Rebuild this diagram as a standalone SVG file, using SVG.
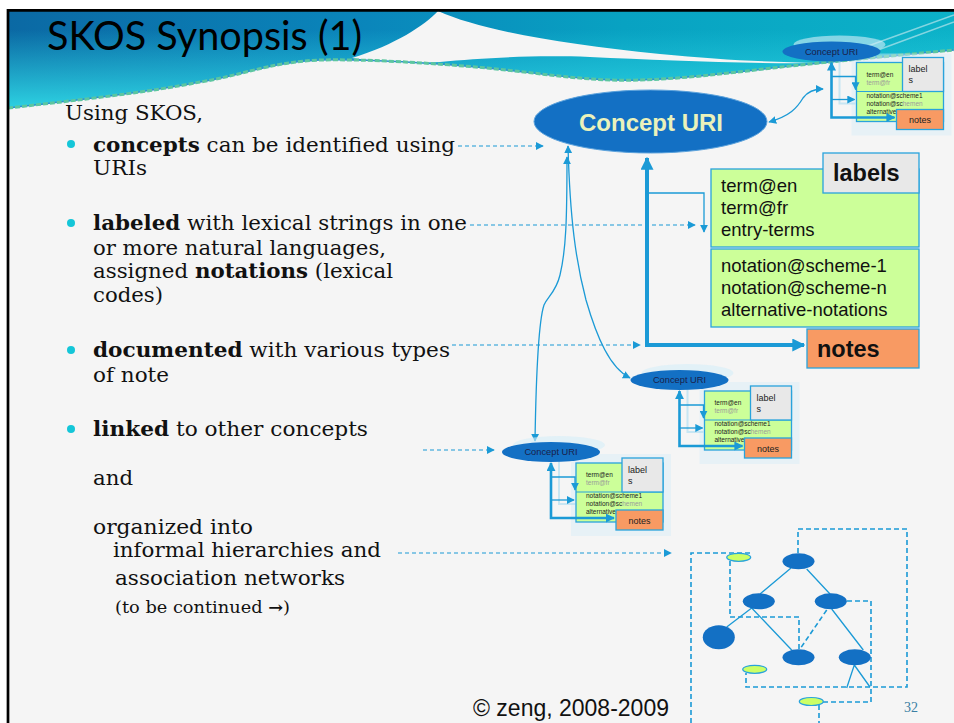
<svg xmlns="http://www.w3.org/2000/svg" xmlns:xlink="http://www.w3.org/1999/xlink" width="954" height="723" viewBox="0 0 954 723">
  <style>
    .body { font-family: "DejaVu Serif", "Liberation Serif", serif; font-size: 19.5px; fill: #111; }
    .b { font-weight: bold; }
    .sm { font-size: 16.5px; }
    .sans { font-family: "Liberation Sans", Arial, sans-serif; }
    .cfill { fill: #1370c4; }
    .grn { fill: #ccff99; stroke: #29a3dc; stroke-width: 1.3; }
    .gry { fill: #e8e8e8; stroke: #29a3dc; stroke-width: 1.3; }
    .org { fill: #f89a63; stroke: #29a3dc; stroke-width: 1.3; }
    .ln { fill: none; stroke: #1b9ad6; stroke-width: 1.3; }
    .thick { fill: none; stroke: #1b9ad6; stroke-width: 4; }
    .mthick { fill: none; stroke: #1b9ad6; stroke-width: 2.6; }
    .dash { fill: none; stroke: #1b9ad6; stroke-width: 1.2; stroke-dasharray: 4 3; }
    .hdash { fill: none; stroke: #1b9ad6; stroke-width: 1.6; stroke-dasharray: 5 3; }
    .node { fill: #1370c4; }
    .gnode { fill: #ccff66; stroke: #29a3dc; stroke-width: 1.2; }
    .mt { font-family: "Liberation Sans", Arial, sans-serif; font-size: 6.5px; fill: #222; }
    .mf { fill: #9a9a9a; }
  </style>
  <defs>
    <linearGradient id="hdr" gradientUnits="userSpaceOnUse" x1="8" y1="0" x2="954" y2="0">
      <stop offset="0" stop-color="#0b69a4"/>
      <stop offset="0.38" stop-color="#0a86bb"/>
      <stop offset="0.65" stop-color="#08a2c2"/>
      <stop offset="1" stop-color="#0cb2c8"/>
    </linearGradient>
    <linearGradient id="hdrv" gradientUnits="userSpaceOnUse" x1="0" y1="30" x2="0" y2="105">
      <stop offset="0" stop-color="#2dd2e2" stop-opacity="0"/>
      <stop offset="1" stop-color="#2dd2e2" stop-opacity="0.95"/>
    </linearGradient>
    <marker id="ah" viewBox="0 0 10 10" refX="9" refY="5" markerWidth="8" markerHeight="8" markerUnits="userSpaceOnUse" orient="auto-start-reverse">
      <path d="M0,0 L10,5 L0,10 z" fill="#1b9ad6"/>
    </marker>
    <marker id="ahM" viewBox="0 0 10 10" refX="9" refY="5" markerWidth="9" markerHeight="9" markerUnits="userSpaceOnUse" orient="auto-start-reverse">
      <path d="M0,0 L10,5 L0,10 z" fill="#1b9ad6"/>
    </marker>
    <marker id="ahL" viewBox="0 0 10 10" refX="9" refY="5" markerWidth="13" markerHeight="13" markerUnits="userSpaceOnUse" orient="auto-start-reverse">
      <path d="M0,0 L10,5 L0,10 z" fill="#1b9ad6"/>
    </marker>

    <!-- small concept record: URI ellipse, label/notation box, notes -->
    <g id="mini">
      <rect x="20" y="2" width="100" height="82" fill="#d6eef9" opacity="0.45"/>
      <ellipse cx="8" cy="-7" rx="46" ry="9" fill="#d6eef9" opacity="0.6"/>
      <rect x="25" y="11" width="87" height="59" class="grn"/>
      <line x1="25" y1="40" x2="112" y2="40" stroke="#29a3dc" stroke-width="1.2"/>
      <text class="mt" x="35" y="25">term@en</text>
      <text class="mt mf" x="35" y="33">term@fr</text>
      <text class="mt" x="35" y="46">notation@scheme1</text>
      <text class="mt" x="35" y="54">notation@sc<tspan class="mf">hemen</tspan></text>
      <text class="mt" x="35" y="62">alternative</text>
      <path d="M8,-2 V52 H24" fill="none" stroke="#a8dcf2" stroke-width="2" opacity="0.6"/>
      <path d="M0,11 V66 H63" class="mthick" marker-start="url(#ahM)" marker-end="url(#ahM)"/>
      <path d="M0,25 H24 V38" class="ln" marker-end="url(#ah)"/>
      <path d="M0,48 H23" class="ln" marker-end="url(#ah)"/>
      <ellipse cx="0" cy="0" rx="49" ry="10" class="cfill"/>
      <text x="0" y="3.3" text-anchor="middle" class="sans" font-size="9.3" fill="#1a2048">Concept URI</text>
      <rect x="71" y="6" width="41" height="34" class="gry"/>
      <text x="77" y="20.5" class="sans" font-size="9" fill="#222">label</text>
      <text x="77" y="31.5" class="sans" font-size="9" fill="#222">s</text>
      <rect x="65" y="58" width="47" height="20" class="org"/>
      <text x="88.5" y="71.5" text-anchor="middle" class="sans" font-size="9" fill="#222">notes</text>
    </g>
  </defs>

  <!-- page -->
  <rect x="0" y="0" width="954" height="723" fill="#ffffff"/>
  <rect x="8" y="11" width="946" height="712" fill="#f5f5f5"/>

  <!-- title band -->
  <g id="header">
    <path d="M8,11 H954 V50 C910,54 860,60 800,65 C750,70 700,78 640,80 C590,82 540,73 487,68 C430,63 370,59 320,60 C270,62 240,76 200,82 C140,92 70,102 8,108 Z" fill="url(#hdr)"/>
    <path d="M8,11 H954 V50 C910,54 860,60 800,65 C750,70 700,78 640,80 C590,82 540,73 487,68 C430,63 370,59 320,60 C270,62 240,76 200,82 C140,92 70,102 8,108 Z" fill="url(#hdrv)"/>
    <path d="M438,11 C480,30 560,44 660,54 C720,60 770,62 820,63 C740,64 660,60 590,57 C530,55 480,58 440,62 C410,64 380,62 352,58 C395,45 425,25 438,11 Z" fill="#f5f5f5"/>
    <path d="M8,108 C80,100 150,92 200,82 C240,76 270,62 320,60 C370,59 430,63 487,68 C540,73 590,82 640,80 C700,78 750,70 800,65 C860,59 910,54 954,50" fill="none" stroke="#2d8fd0" stroke-width="1.5"/>
    <path d="M8,108 C80,100 150,92 200,82 C240,76 270,62 320,60 C370,59 430,63 487,68 C540,73 590,82 640,80 C700,78 750,70 800,65 C860,59 910,54 954,50" fill="none" stroke="#5cc6a0" stroke-width="3" stroke-dasharray="5 2"/>
    <path d="M868,46 L954,15 M878,50 L954,22" stroke="#d4eef2" stroke-width="1.5" opacity="0.6"/>
    <text x="47" y="50" font-family="Lato, 'Open Sans', sans-serif" font-size="40" fill="#000" textLength="315" lengthAdjust="spacingAndGlyphs">SKOS Synopsis (1)</text>
  </g>

  <!-- frame -->
  <path d="M8,723 V10.3 H954" fill="none" stroke="#000" stroke-width="2.7"/>

  <!-- bullet text -->
  <g id="text-list" class="body">
    <text x="65" y="120" textLength="138" lengthAdjust="spacingAndGlyphs">Using SKOS,</text>
    <circle cx="71" cy="144" r="4" fill="#14c6d8"/>
    <text x="93" y="152" textLength="362" lengthAdjust="spacingAndGlyphs"><tspan class="b">concepts</tspan> can be identified using</text>
    <text x="93" y="175" textLength="54" lengthAdjust="spacingAndGlyphs">URIs</text>
    <circle cx="71" cy="223" r="4" fill="#14c6d8"/>
    <text x="93" y="230" textLength="374" lengthAdjust="spacingAndGlyphs"><tspan class="b">labeled</tspan> with lexical strings in one</text>
    <text x="93" y="255" textLength="293" lengthAdjust="spacingAndGlyphs">or more natural languages,</text>
    <text x="93" y="278" textLength="300" lengthAdjust="spacingAndGlyphs">assigned <tspan class="b">notations</tspan> (lexical</text>
    <text x="93" y="302" textLength="70" lengthAdjust="spacingAndGlyphs">codes)</text>
    <circle cx="71" cy="350" r="4" fill="#14c6d8"/>
    <text x="93" y="357" textLength="357" lengthAdjust="spacingAndGlyphs"><tspan class="b">documented</tspan> with various types</text>
    <text x="93" y="382" textLength="76" lengthAdjust="spacingAndGlyphs">of note</text>
    <circle cx="71" cy="429" r="4" fill="#14c6d8"/>
    <text x="93" y="436" textLength="275" lengthAdjust="spacingAndGlyphs"><tspan class="b">linked</tspan> to other concepts</text>
    <text x="93" y="485" textLength="40" lengthAdjust="spacingAndGlyphs">and</text>
    <text x="93" y="534" textLength="160" lengthAdjust="spacingAndGlyphs">organized into</text>
    <text x="113" y="557" textLength="268" lengthAdjust="spacingAndGlyphs">informal hierarchies and</text>
    <text x="115" y="585" textLength="230" lengthAdjust="spacingAndGlyphs">association networks</text>
    <text x="115" y="613" class="sm" textLength="175" lengthAdjust="spacingAndGlyphs">(to be continued <tspan class="b">→</tspan>)</text>
  </g>

  <!-- connectors -->
  <g id="connectors">
    <path d="M458,146 H543" class="dash" marker-end="url(#ah)"/>
    <path d="M470,225 H695" class="dash" marker-end="url(#ah)"/>
    <path d="M452,345 H640" class="dash" marker-end="url(#ah)"/>
    <path d="M423,450 H494" class="dash" marker-end="url(#ah)"/>
    <path d="M398,553 H671" class="dash" marker-end="url(#ah)"/>
    <path d="M647,158 V345 H804" class="thick" marker-start="url(#ahL)" marker-end="url(#ahL)"/>
    <path d="M647,193 H704 V232" class="ln" marker-end="url(#ah)"/>
    <path d="M567,157 C567,220 566,250 560,275 C556,292 548,296 544,305 C539,320 536,380 535,441" class="ln" marker-start="url(#ah)" marker-end="url(#ah)"/>
    <path d="M568,146 C570,220 576,262 586,300 C597,338 610,368 630,378" class="ln" marker-start="url(#ah)" marker-end="url(#ah)"/>
    <path d="M769,122 C790,116 797,108 803,98 C808,91 814,89 823,89" class="ln" marker-start="url(#ah)" marker-end="url(#ah)"/>
  </g>

  <!-- main concept record -->
  <g id="concept-main">
    <ellipse cx="650.5" cy="121.5" rx="116.5" ry="31.5" fill="#1370c4" stroke="#5ba2dc" stroke-width="1"/>
    <text x="651" y="131" text-anchor="middle" class="sans" font-weight="bold" font-size="24" fill="#eaf2bb">Concept URI</text>
  </g>
  <g id="labels-box">
    <rect x="711" y="169" width="208" height="78" class="grn" stroke-width="2"/>
    <rect x="823" y="153" width="96" height="40" class="gry" stroke-width="2"/>
    <text x="833" y="181" class="sans" font-weight="bold" font-size="23.5" fill="#111">labels</text>
    <text x="721" y="192" class="sans" font-size="18.5" fill="#111">term@en</text>
    <text x="721" y="214" class="sans" font-size="18.5" fill="#111">term@fr</text>
    <text x="721" y="236" class="sans" font-size="18.5" fill="#111">entry-terms</text>
  </g>
  <g id="notations-box">
    <rect x="711" y="249" width="208" height="78" class="grn" stroke-width="2"/>
    <text x="721" y="272" class="sans" font-size="18.5" fill="#111">notation@scheme-1</text>
    <text x="721" y="294" class="sans" font-size="18.5" fill="#111">notation@scheme-n</text>
    <text x="721" y="316" class="sans" font-size="18.5" fill="#111">alternative-notations</text>
  </g>
  <g id="notes-box">
    <rect x="807" y="329" width="112" height="39" class="org" stroke-width="2"/>
    <text x="817" y="357" class="sans" font-weight="bold" font-size="23.5" fill="#111">notes</text>
  </g>

  <!-- linked concept records -->
  <g id="concept-top"><use xlink:href="#mini" transform="translate(831.5,51.5)"/></g>
  <g id="concept-mid"><use xlink:href="#mini" transform="translate(679.5,380)"/></g>
  <g id="concept-low"><use xlink:href="#mini" transform="translate(551,452)"/></g>

  <!-- hierarchy / association network -->
  <g id="network">
    <path d="M750,553 H691 V723" class="hdash"/>
    <path d="M730,561 V617 H799 V650" class="hdash"/>
    <path d="M798,553 V529 H907 V687 H746 V673" class="hdash"/>
    <path d="M847,601 H871 V702 H823" class="hdash"/>
    <path d="M819,705 V723" class="hdash"/>
    <path d="M826.7,610 L800,649" class="hdash" stroke-width="1.2"/>
    <path d="M791,568 L760,594 M806.7,569 L830,594 M751.7,608 L726.7,627 M751.7,608 L791.7,650 M831.7,609 L863.3,650 M854.3,665 L846.7,688 M854.3,665 L870,687" class="ln"/>
    <g id="n-top"><ellipse cx="798.5" cy="561.3" rx="16" ry="8" class="node"/></g>
    <g id="n-midl"><ellipse cx="758.8" cy="601.3" rx="16" ry="8" class="node"/></g>
    <g id="n-midr"><ellipse cx="830.8" cy="601.3" rx="16" ry="8" class="node"/></g>
    <g id="n-big"><ellipse cx="718.8" cy="637.2" rx="16" ry="12" class="node"/></g>
    <g id="n-botm"><ellipse cx="798.5" cy="657.3" rx="16" ry="8" class="node"/></g>
    <g id="n-botr"><ellipse cx="854.8" cy="657.3" rx="16" ry="8" class="node"/></g>
    <g id="g-1"><ellipse cx="738.7" cy="557.3" rx="12" ry="4" class="gnode"/></g>
    <g id="g-2"><ellipse cx="754.7" cy="669.3" rx="12" ry="4" class="gnode"/></g>
    <g id="g-3"><ellipse cx="811.3" cy="701.5" rx="12" ry="4" class="gnode"/></g>
  </g>

  <!-- footer -->
  <text x="473" y="716" class="sans" font-size="23" fill="#111">© zeng, 2008-2009</text>
  <text x="904" y="712" font-family="'Liberation Serif', serif" font-size="14" fill="#3b7fa3">32</text>
</svg>
